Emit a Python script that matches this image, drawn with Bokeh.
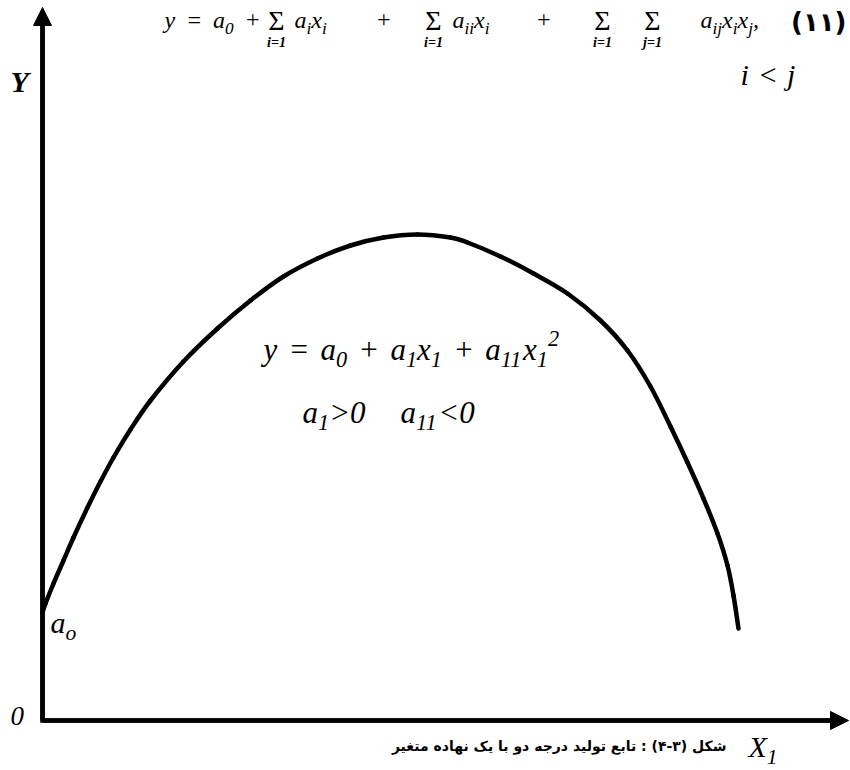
from bokeh.plotting import figure
from bokeh.models import Range1d, Arrow, NormalHead
from bokeh.core.properties import value
from bokeh.embed import file_html
from bokeh.resources import INLINE

# Quadratic production function: output Y against one variable input X1
# (axis units, origin of the two axes at 0,0)
curve_x = [0, 3, 11, 21, 31, 45, 58, 71, 88, 108, 141, 175, 208, 241, 275,
           308, 341, 375, 408, 425, 458, 491, 525, 558, 585, 608, 628, 645,
           661, 675, 685, 691, 696]
curve_y = [108, 117, 137, 160, 183, 213, 239, 263, 291, 320, 359, 392, 420,
           444, 462, 475, 483, 486, 483, 478, 464, 447, 427, 400, 370, 334,
           294, 258, 222, 187, 155, 125, 92]

x_axis_end = 806
y_axis_end = 713

caption = "شکل (۳-۴) : تابع تولید درجه دو با یک نهاده متغیر"
equation_number = "(۱۱)"

SERIF = "Liberation Serif"
PERSIAN = "DejaVu Sans"
INK = "#000000"

p = figure(width=850, height=770,
           x_range=Range1d(-42, 808), y_range=Range1d(-50, 720),
           x_axis_type=None, y_axis_type=None,
           output_backend="svg", toolbar_location=None, min_border=0)
p.outline_line_color = None
p.background_fill_color = "white"
p.border_fill_color = "white"

# approximate advance widths (em) of a Times-like italic face
ADV = {"a": 0.5, "x": 0.444, "y": 0.444, "=": 0.675, "+": 0.675,
       "<": 0.675, ">": 0.675, "0": 0.5, "1": 0.5, "2": 0.5, "i": 0.278,
       "j": 0.278, "o": 0.5, "Y": 0.556, "X": 0.611, ",": 0.25, "Σ": 0.62}
BASE_SHIFT = 0.36   # lifts the drawn text so its baseline sits on y


def write(x, y, parts, size, style="italic", font=SERIF, space=0.3):
    """Lay out runs of normal ('n'), subscript ('b') and superscript ('p') text;
    a run of blanks only advances the pen."""
    for txt, role in parts:
        s = size if role == "n" else size * 0.72
        if not txt.strip():
            x += len(txt) * space * size
            continue
        dy = 0 if role == "n" else (-0.24 * size if role == "b" else 0.45 * size)
        p.text(x=[x], y=[y + dy + BASE_SHIFT * s], text=[txt],
               text_font=value(font), text_font_size=f"{s:.1f}px",
               text_font_style=style, text_baseline="alphabetic",
               text_align="left", text_color=INK)
        x += sum(ADV.get(c, 0.5) for c in txt) * s
    return x


# axes
p.line([0, 0, x_axis_end - 10], [y_axis_end - 10, 0, 0], line_width=4.5,
       line_color=INK, line_join="miter")
for xe, ye in [(0, y_axis_end), (x_axis_end, 0)]:
    p.add_layout(Arrow(x_start=0, y_start=0, x_end=xe, y_end=ye,
                       line_width=4.5, line_color=INK,
                       end=NormalHead(size=18, fill_color=INK, line_color=INK,
                                      line_width=1)))

# the production curve, drawn as a smooth Catmull-Rom path through the points
n = len(curve_x)
seg = {k: [] for k in ("x0", "y0", "x1", "y1", "cx0", "cy0", "cx1", "cy1")}
for i in range(n - 1):
    a = max(i - 1, 0)
    d = min(i + 2, n - 1)
    seg["x0"].append(curve_x[i]); seg["y0"].append(curve_y[i])
    seg["x1"].append(curve_x[i + 1]); seg["y1"].append(curve_y[i + 1])
    seg["cx0"].append(curve_x[i] + (curve_x[i + 1] - curve_x[a]) / 6)
    seg["cy0"].append(curve_y[i] + (curve_y[i + 1] - curve_y[a]) / 6)
    seg["cx1"].append(curve_x[i + 1] - (curve_x[d] - curve_x[i]) / 6)
    seg["cy1"].append(curve_y[i + 1] - (curve_y[d] - curve_y[i]) / 6)
p.bezier(line_width=4.5, line_color=INK, line_cap="round", **seg)

# axis labels
write(-32, 628, [("Y", "n")], 30, style="bold italic")
write(-32, -5, [("0", "n")], 27)
write(706, -37, [("X", "n"), ("1", "b")], 30)
write(8, 87, [("a", "n"), ("o", "b")], 30)

# formula and conditions
write(221, 360, [("y", "n"), (" ", "n"), ("=", "n"), (" ", "n"), ("a", "n"),
                 ("0", "b"), (" ", "n"), ("+", "n"), (" ", "n"), ("a", "n"),
                 ("1", "b"), ("x", "n"), ("1", "b"), (" ", "n"), ("+", "n"),
                 (" ", "n"), ("a", "n"), ("11", "b"), ("x", "n"), ("1", "b"),
                 ("2", "p")], 31, space=0.36)
write(260, 297, [("a", "n"), ("1", "b"), (">0", "n")], 31)
write(358, 297, [("a", "n"), ("11", "b"), ("<0", "n")], 31)
write(698, 635, [("i", "n"), (" ", "n"), ("<", "n"), (" ", "n"), ("j", "n")], 30)

# general second-degree polynomial along the top edge
top = 692
TS = 24
write(122, top, [("y", "n"), (" ", "n"), ("=", "n"), (" ", "n"), ("a", "n"),
                 ("0", "b"), (" ", "n"), ("+", "n")], TS, space=0.45)
write(252, top, [("a", "n"), ("i", "b"), ("x", "n"), ("i", "b")], TS)
write(333, top, [("+", "n")], TS)
write(410, top, [("a", "n"), ("ii", "b"), ("x", "n"), ("i", "b")], TS)
write(493, top, [("+", "n")], TS)
write(658, top, [("a", "n"), ("ij", "b"), ("x", "n"), ("i", "b"), ("x", "n"),
                 ("j", "b"), (",", "n")], TS)
for sx, lab in [(234, "i=1"), (391, "i=1"), (560, "i=1"), (610, "j=1")]:
    p.text(x=[sx], y=[top - 2 + BASE_SHIFT * 28], text=["Σ"], text_font=value(SERIF),
           text_font_size="28px", text_baseline="alphabetic", text_align="center",
           text_color=INK)
    p.text(x=[sx], y=[top - 19 + BASE_SHIFT * 14], text=[lab], text_font=value(SERIF),
           text_font_size="14px", text_font_style="bold italic",
           text_baseline="alphabetic", text_align="center", text_color=INK)
p.text(x=[804], y=[top - 3 + BASE_SHIFT * 26], text=[equation_number],
       text_font=value(PERSIAN), text_font_size="26px", text_font_style="bold",
       text_baseline="alphabetic", text_align="right", text_color=INK)

# caption
p.text(x=[684], y=[-31 + BASE_SHIFT * 14], text=[caption], text_font=value(PERSIAN),
       text_font_size="14px", text_font_style="bold", text_baseline="alphabetic",
       text_align="right", text_color=INK)

open("out.html", "w").write(file_html(p, INLINE))
